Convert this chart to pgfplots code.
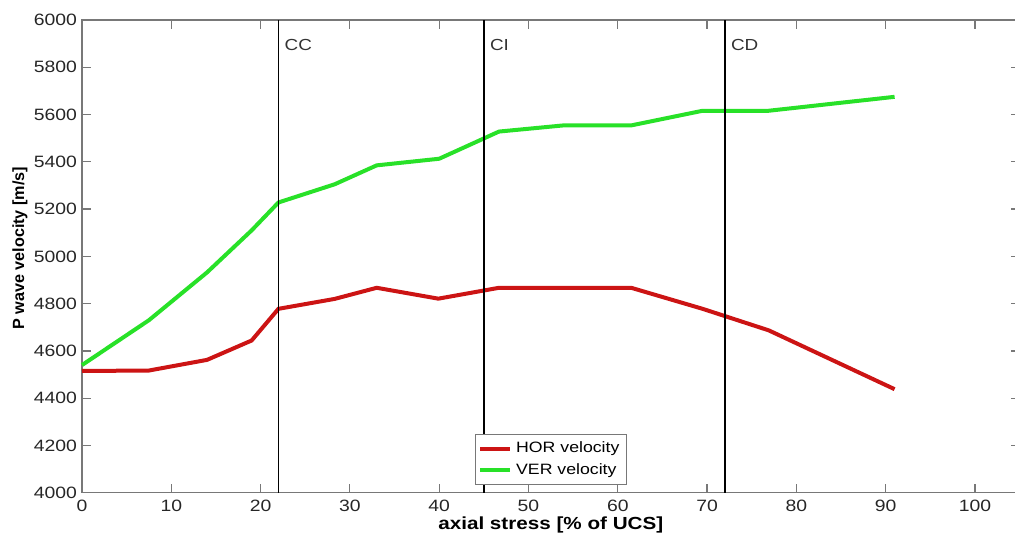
\documentclass[border=0pt]{standalone}
\usepackage{pgfplots}
\pgfplotsset{compat=1.18}
\usepackage{fontspec}
\setmainfont{Liberation Sans}[FakeStretch=1.18]
\newfontfamily\plainfont{Liberation Sans}
\definecolor{hor}{RGB}{204,20,20}
\definecolor{ver}{RGB}{40,225,40}
\definecolor{axgray}{RGB}{120,120,120}
\begin{document}
\begin{tikzpicture}
\useasboundingbox (-41pt,-19.65pt) rectangle (466.5pt,246.35pt);
\begin{axis}[
  at={(0,0)}, anchor=south west,
  scale only axis,
  width=468.8pt, height=236.35pt,
  xmin=0, xmax=105, ymin=4000, ymax=6000,
  xtick={0,10,...,100}, ytick={4000,4200,...,6000},
  tick align=inside, major tick length=4.3pt,
  axis line style={axgray, line width=0.7pt},
  every tick/.style={axgray, line width=0.6pt},
  /pgf/number format/assume math mode=true,
  /pgf/number format/1000 sep={},
  tick label style={font=\fontsize{8.2}{9}\selectfont, text=black!85},
  yticklabel style={xshift=1pt},
  xlabel={\textbf{axial stress [\% of UCS]}},
  ylabel={\plainfont\bfseries P wave velocity [m/s]},
  xlabel style={font=\fontsize{8.75}{10}\selectfont, at={(axis description cs:0.5,0)}, anchor=center, yshift=-16pt},
  ylabel style={font=\fontsize{8.1}{10}\selectfont, at={(axis description cs:0,0.517)}, anchor=center, yshift=31pt},
  legend style={at={(0.5,0.016)}, anchor=south, draw=axgray, line width=0.5pt,
    font=\fontsize{7.5}{9}\selectfont,
    inner xsep=1.5pt, inner ysep=1.8pt, row sep=-0.3pt, legend cell align=left},
  legend image code/.code={\draw[#1, line width=2pt] (0cm,0cm) -- (15pt,0cm);},
  clip=false,
]
\addplot[hor, line width=2pt] coordinates {
 (0,4515) (7.5,4517) (14,4562) (19,4644) (22,4778) (28.3,4820) (33,4867) (39.9,4821)
 (46.7,4867) (61.5,4867) (69.5,4778) (76.9,4687) (91,4438)};
\addlegendentry{HOR velocity}
\addplot[ver, line width=2pt] coordinates {
 (0,4540) (7.5,4730) (14,4932) (19,5110) (22,5228) (28.3,5305) (33,5385) (40,5413)
 (46.7,5528) (53.9,5554) (61.5,5554) (69.5,5616) (76.9,5616) (91,5675)};
\addlegendentry{VER velocity}
\draw[black, line width=0.9pt] (axis cs:22,4000) -- (axis cs:22,6000);
\draw[black, line width=0.9pt] (axis cs:45,4000) -- (axis cs:45,6000);
\draw[black, line width=0.9pt] (axis cs:72,4000) -- (axis cs:72,6000);
\node[anchor=west, font=\fontsize{8}{9}\selectfont, text=black!80] at (axis cs:21.9,5896) {CC};
\node[anchor=west, font=\fontsize{8}{9}\selectfont, text=black!80] at (axis cs:44.9,5896) {CI};
\node[anchor=west, font=\fontsize{8}{9}\selectfont, text=black!80] at (axis cs:71.9,5896) {CD};
\end{axis}
\end{tikzpicture}
\end{document}
